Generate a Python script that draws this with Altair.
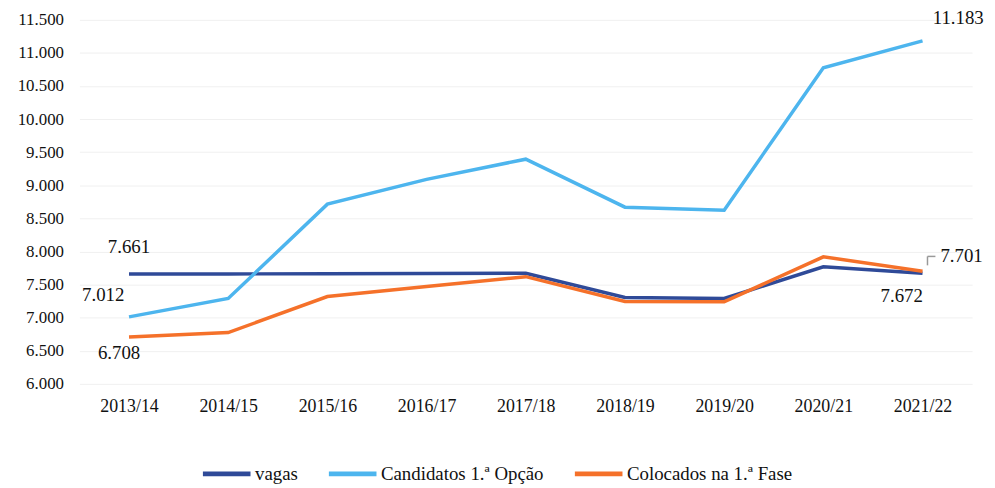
import altair as alt
import pandas as pd

years = ["2013/14", "2014/15", "2015/16", "2016/17", "2017/18",
         "2018/19", "2019/20", "2020/21", "2021/22"]
vagas = [7661, 7661, 7665, 7668, 7672, 7305, 7290, 7770, 7672]
candidatos = [7012, 7290, 8715, 9090, 9395, 8670, 8625, 10775, 11183]
colocados = [6708, 6775, 7320, 7470, 7620, 7245, 7240, 7920, 7701]
series_names = ["vagas", "Candidatos 1.ª Opção", "Colocados na 1.ª Fase"]
series_colors = ["#2F4A98", "#4DB5EE", "#F5712A"]
y_ticks = list(range(6000, 11501, 500))

rows = []
for name, vals in zip(series_names, [vagas, candidatos, colocados]):
    for i, (yr, v) in enumerate(zip(years, vals)):
        rows.append({"serie": name, "ano": yr, "valor": v, "idx": i,
                     "rotulo": f"{v:,}".replace(",", ".")})
df = pd.DataFrame(rows)

FONT = "Liberation Serif"

x_enc = alt.X("ano:N", sort=years, title=None,
              scale=alt.Scale(type="point", padding=0.5),
              axis=alt.Axis(labelAngle=0, labelFontSize=18, labelFont=FONT,
                            labelColor="#111", domain=False, ticks=False,
                            labelPadding=14, grid=False))
y_enc = alt.Y("valor:Q", title=None,
              scale=alt.Scale(domain=[6000, 11500], nice=False, zero=False),
              axis=alt.Axis(values=y_ticks, labelFontSize=17, labelFont=FONT,
                            labelColor="#111", domain=False, ticks=False,
                            labelOverlap=False, labelPadding=16,
                            gridColor="#f0f0f0",
                            labelExpr="replace(format(datum.value, ','), ',', '.')"))

base = alt.Chart(df)

lines = base.mark_line(strokeWidth=3.5).encode(
    x=x_enc, y=y_enc,
    color=alt.Color("serie:N", sort=series_names,
                    scale=alt.Scale(domain=series_names, range=series_colors),
                    legend=alt.Legend(title=None, orient="none", direction="horizontal",
                                      legendX=122, legendY=431,
                                      symbolType="stroke", symbolSize=2304,
                                      symbolStrokeWidth=5, labelFont=FONT,
                                      labelFontSize=19, labelColor="#111",
                                      labelLimit=400,
                                      columnPadding=20, labelOffset=2)),
    order=alt.Order("idx:Q"),
)

def label(serie, idx, dx, dy, align="center"):
    return base.transform_filter(
        (alt.datum.serie == serie) & (alt.datum.idx == idx)
    ).mark_text(font=FONT, fontSize=19, color="#111", dx=dx, dy=dy,
                align=align, baseline="middle").encode(x=x_enc, y=y_enc, text="rotulo:N")

labels = [
    label("vagas", 0, 0, -27),
    label("Candidatos 1.ª Opção", 0, -26, -22),
    label("Colocados na 1.ª Fase", 0, -10, 16),
    label("Candidatos 1.ª Opção", 8, 36, -23),
    label("Colocados na 1.ª Fase", 8, 18, -15, "left"),
    label("vagas", 8, -21, 23),
]

last_col = base.transform_filter(
    (alt.datum.serie == "Colocados na 1.ª Fase") & (alt.datum.idx == 8))
lead_v = last_col.mark_rule(color="#999", strokeWidth=1.5, xOffset=5,
                            yOffset=-6, y2Offset=-15).encode(
    x=x_enc, y=y_enc, y2="valor:Q")
lead_h = last_col.mark_rule(color="#999", strokeWidth=1.5, xOffset=5,
                            x2Offset=13, yOffset=-15).encode(
    x=x_enc, x2="ano:N", y=y_enc)

chart = alt.layer(lines, lead_v, lead_h, *labels).properties(
    width=900, height=367, background="white",
    autosize=alt.AutoSizeParams(type="none"),
    padding={"left": 72, "top": 10, "right": 15, "bottom": 100},
).configure(font=FONT).configure_view(stroke=None)

chart.save("out.html", embed_options={"renderer": "svg", "actions": False})
